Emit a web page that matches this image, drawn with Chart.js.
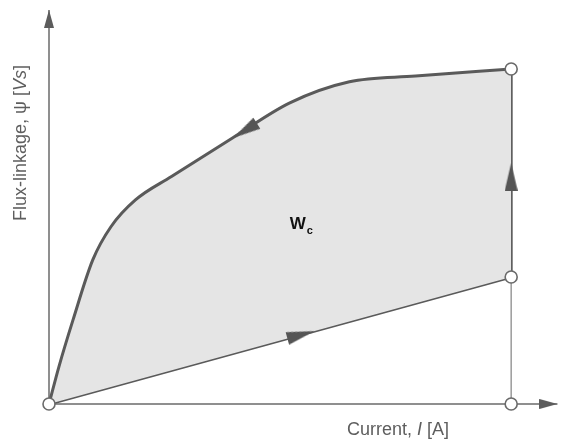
<!DOCTYPE html>
<html>
<head>
<meta charset="utf-8">
<script src="https://cdn.jsdelivr.net/npm/chart.js@4.4.1/dist/chart.umd.min.js"></script>
<style>
  html, body { margin: 0; padding: 0; background: #fff; }
  #wrap { width: 565px; height: 439px; position: relative; }
</style>
</head>
<body>
<div id="wrap"><canvas id="chart"></canvas></div>
<script>
/* Co-energy loop: magnetisation curve psi(I), return line and current step */

// Upper branch (magnetisation curve), I normalised to the end current
const curveCurrent = [0, 0.0214, 0.052, 0.0947, 0.134, 0.187, 0.265, 0.397, 0.521, 0.650, 0.793, 1.0];
const curveFlux = [0, 0.111, 0.251, 0.430, 0.529, 0.609, 0.679, 0.794, 0.899, 0.962, 0.979, 1.0];

// Lower branch (straight line) and the operating points
const lineCurrent = [0, 1.0];
const lineFlux = [0, 0.379];
const pointCurrent = [0, 1.0, 1.0, 1.0];
const pointFlux = [0, 1.0, 0.379, 0];

// Direction arrows sitting on the loop
const arrowCurrent = [0.424, 0.545, 1.0];
const arrowFlux = [0.816, 0.2066, 0.678];
const arrowAngle = [148, -15.2, -90];

const X_MAX = 1.1;
const Y_MAX = 1.176;

const LINE = '#5a5a5a';
const AXIS = '#8f8f8f';
const FILL = '#e5e5e5';
const FONT = '"Liberation Sans", Arial, sans-serif';

const xy = (xs, ys) => xs.map((v, i) => ({ x: v, y: ys[i] }));

// Arrowhead bitmap pointing right; tipAtCenter puts the tip on the point itself
function arrowHead(len, wid, color, tipAtCenter) {
  const c = document.createElement('canvas');
  c.width = tipAtCenter ? len * 2 : len;
  c.height = wid;
  const g = c.getContext('2d');
  g.fillStyle = color;
  g.beginPath();
  g.moveTo(0, 0);
  g.lineTo(len, wid / 2);
  g.lineTo(0, wid);
  g.closePath();
  g.fill();
  return c;
}

const loopArrow = arrowHead(28, 13, '#555', false);
const axisArrow = arrowHead(18, 10, '#5c5c5c', true);

// Draws a sequence of text runs with different fonts, centred on (cx, cy)
function drawRuns(ctx, runs, cx, cy) {
  let total = 0;
  runs.forEach(r => { ctx.font = r.font; total += ctx.measureText(r.text).width; });
  let x = cx - total / 2;
  runs.forEach(r => {
    ctx.font = r.font;
    ctx.fillText(r.text, x, cy);
    x += ctx.measureText(r.text).width;
  });
}

const textLabels = {
  id: 'textLabels',
  afterDraw(chart) {
    const { ctx, scales: { x, y } } = chart;
    ctx.save();
    ctx.fillStyle = '#5e5e5e';
    ctx.textAlign = 'left';
    ctx.textBaseline = 'middle';

    drawRuns(ctx, [
      { text: 'Current, ', font: `18px ${FONT}` },
      { text: 'I', font: `italic 18px ${FONT}` },
      { text: ' [A]', font: `18px ${FONT}` },
    ], 398, 430);

    ctx.save();
    ctx.translate(21, 143);
    ctx.rotate(-Math.PI / 2);
    drawRuns(ctx, [
      { text: 'Flux-linkage, \u03c8 [', font: `18px ${FONT}` },
      { text: 'Vs', font: `italic 18px ${FONT}` },
      { text: ']', font: `18px ${FONT}` },
    ], 0, 0);
    ctx.restore();

    // W_c inside the loop
    ctx.fillStyle = '#111';
    ctx.textBaseline = 'alphabetic';
    const wx = x.getPixelForValue(0.521);
    const wy = y.getPixelForValue(0.523);
    ctx.font = `bold 17px ${FONT}`;
    ctx.fillText('W', wx, wy);
    const ww = ctx.measureText('W').width;
    ctx.font = `bold 11px ${FONT}`;
    ctx.fillText('c', wx + ww + 1, wy + 5);
    ctx.restore();
  },
};

new Chart(document.getElementById('chart'), {
  type: 'line',
  data: {
    datasets: [
      {
        // upper branch, filled down to the lower branch
        data: xy(curveCurrent, curveFlux),
        borderColor: LINE,
        borderWidth: 3,
        backgroundColor: FILL,
        fill: 1,
        cubicInterpolationMode: 'monotone',
        pointRadius: 0,
        order: 2,
      },
      {
        data: xy(lineCurrent, lineFlux),
        borderColor: LINE,
        borderWidth: 3,
        fill: false,
        pointRadius: 0,
        order: 2,
      },
      {
        // vertical step at the end current
        data: xy([1.0, 1.0], [0.379, 1.0]),
        borderColor: LINE,
        borderWidth: 3,
        fill: false,
        pointRadius: 0,
        order: 2,
      },
      {
        // thin drop line to the current axis
        data: xy([1.0, 1.0], [0, 0.379]),
        borderColor: '#9a9a9a',
        borderWidth: 1.5,
        fill: false,
        pointRadius: 0,
        order: 3,
      },
      {
        // current axis
        data: xy([0, X_MAX], [0, 0]),
        borderColor: AXIS,
        borderWidth: 2,
        fill: false,
        pointRadius: [0, 1],
        pointStyle: axisArrow,
        pointRotation: 0,
        order: 4,
      },
      {
        // flux axis
        data: xy([0, 0], [0, Y_MAX]),
        borderColor: AXIS,
        borderWidth: 2,
        fill: false,
        pointRadius: [0, 1],
        pointStyle: axisArrow,
        pointRotation: -90,
        order: 4,
      },
      {
        data: xy(arrowCurrent, arrowFlux),
        showLine: false,
        pointStyle: loopArrow,
        pointRadius: 1,
        pointRotation: arrowAngle,
        order: 1,
      },
      {
        data: xy(pointCurrent, pointFlux),
        showLine: false,
        pointStyle: 'circle',
        pointRadius: 6,
        pointBorderWidth: 1.6,
        pointBorderColor: '#6a6a6a',
        pointBackgroundColor: '#fff',
        order: 0,
      },
    ],
  },
  options: {
    responsive: true,
    maintainAspectRatio: false,
    animation: false,
    clip: false,
    layout: { padding: { left: 49, top: 10, right: 1, bottom: 35 } },
    plugins: {
      legend: { display: false },
      tooltip: { enabled: false },
    },
    scales: {
      x: { type: 'linear', min: 0, max: X_MAX, display: false },
      y: { type: 'linear', min: 0, max: Y_MAX, display: false },
    },
  },
  plugins: [textLabels],
});
</script>
</body>
</html>
